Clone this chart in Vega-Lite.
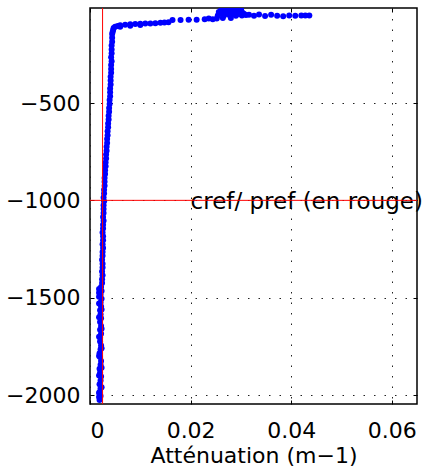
{
  "$schema": "https://vega.github.io/schema/vega-lite/v6.json",
  "width": 327,
  "height": 396,
  "autosize": "none",
  "padding": {"left": 90, "top": 8, "right": 10, "bottom": 71},
  "background": "white",
  "config": {
    "view": {"stroke": "black", "strokeWidth": 1.5},
    "font": "DejaVu Sans",
    "axis": {
      "domain": false,
      "tickColor": "black",
      "tickWidth": 1,
      "tickSize": -4,
      "labelColor": "black",
      "labelFontSize": 22,
      "labelFont": "DejaVu Sans",
      "titleFont": "DejaVu Sans",
      "titleFontSize": 22,
      "titleFontWeight": "normal",
      "titleColor": "black",
      "gridColor": "#222",
      "gridDash": [1.5, 9],
      "gridWidth": 1,
      "gridOpacity": 1
    }
  },
  "datasets": {
    "profile": [
      {"a": 0.0019, "z": -2025}, {"a": 0.0021, "z": -2005}, {"a": 0.0019, "z": -1985}, {"a": 0.0021, "z": -1965},
      {"a": 0.0019, "z": -1945}, {"a": 0.0021, "z": -1925}, {"a": 0.0022, "z": -1905}, {"a": 0.0020, "z": -1885},
      {"a": 0.0019, "z": -1865}, {"a": 0.0021, "z": -1845}, {"a": 0.0022, "z": -1825}, {"a": 0.0020, "z": -1805},
      {"a": 0.0019, "z": -1785}, {"a": 0.0021, "z": -1765}, {"a": 0.0022, "z": -1745}, {"a": 0.0020, "z": -1725},
      {"a": 0.0020, "z": -1705}, {"a": 0.0022, "z": -1685}, {"a": 0.0020, "z": -1665}, {"a": 0.0022, "z": -1645},
      {"a": 0.0020, "z": -1625}, {"a": 0.0022, "z": -1605}, {"a": 0.0021, "z": -1585}, {"a": 0.0020, "z": -1565},
      {"a": 0.0022, "z": -1545}, {"a": 0.0021, "z": -1525}, {"a": 0.0023, "z": -1505}, {"a": 0.0021, "z": -1485},
      {"a": 0.0023, "z": -1465}, {"a": 0.0022, "z": -1445}, {"a": 0.0018, "z": -1455}, {"a": 0.0018, "z": -1475},
      {"a": 0.0018, "z": -1495}, {"a": 0.0018, "z": -1990}, {"a": 0.0018, "z": -2010},
      {"a": 0.0018, "z": -1530}, {"a": 0.0018, "z": -1600}, {"a": 0.0018, "z": -1700}, {"a": 0.0018, "z": -1800},
      {"a": 0.0018, "z": -1900}, {"a": 0.0023, "z": -1560}, {"a": 0.0023, "z": -1660}, {"a": 0.0023, "z": -1760},
      {"a": 0.0023, "z": -1860}, {"a": 0.0023, "z": -1960},
      {"a": 0.0024, "z": -1425}, {"a": 0.0024, "z": -1405}, {"a": 0.0025, "z": -1385}, {"a": 0.0024, "z": -1365},
      {"a": 0.0025, "z": -1345}, {"a": 0.0025, "z": -1325}, {"a": 0.0024, "z": -1305}, {"a": 0.0025, "z": -1285},
      {"a": 0.0025, "z": -1265}, {"a": 0.0026, "z": -1245}, {"a": 0.0025, "z": -1225}, {"a": 0.0026, "z": -1205},
      {"a": 0.0026, "z": -1185}, {"a": 0.0025, "z": -1165}, {"a": 0.0026, "z": -1145}, {"a": 0.0026, "z": -1125},
      {"a": 0.0027, "z": -1105}, {"a": 0.0026, "z": -1085}, {"a": 0.0027, "z": -1065}, {"a": 0.0027, "z": -1045},
      {"a": 0.0027, "z": -1025}, {"a": 0.0028, "z": -1005}, {"a": 0.0027, "z": -985}, {"a": 0.0028, "z": -965},
      {"a": 0.0028, "z": -945}, {"a": 0.0029, "z": -925}, {"a": 0.0029, "z": -905}, {"a": 0.0029, "z": -885},
      {"a": 0.0030, "z": -865}, {"a": 0.0030, "z": -845}, {"a": 0.0031, "z": -825}, {"a": 0.0031, "z": -805},
      {"a": 0.0032, "z": -785}, {"a": 0.0032, "z": -765}, {"a": 0.0033, "z": -745}, {"a": 0.0033, "z": -725},
      {"a": 0.0034, "z": -705}, {"a": 0.0034, "z": -685}, {"a": 0.0035, "z": -665}, {"a": 0.0035, "z": -645},
      {"a": 0.0036, "z": -625}, {"a": 0.0036, "z": -605}, {"a": 0.0037, "z": -585}, {"a": 0.0037, "z": -565},
      {"a": 0.0038, "z": -545}, {"a": 0.0038, "z": -525}, {"a": 0.0039, "z": -505}, {"a": 0.0039, "z": -485},
      {"a": 0.0040, "z": -465}, {"a": 0.0040, "z": -445}, {"a": 0.0040, "z": -425}, {"a": 0.0041, "z": -405},
      {"a": 0.0041, "z": -385}, {"a": 0.0041, "z": -365}, {"a": 0.0042, "z": -345}, {"a": 0.0042, "z": -325},
      {"a": 0.0042, "z": -305}, {"a": 0.0043, "z": -285}, {"a": 0.0042, "z": -265}, {"a": 0.0043, "z": -245},
      {"a": 0.0043, "z": -225}, {"a": 0.0043, "z": -205}, {"a": 0.0044, "z": -185}, {"a": 0.0044, "z": -165},
      {"a": 0.0044, "z": -145}, {"a": 0.0045, "z": -135}, {"a": 0.0046, "z": -125}, {"a": 0.0047, "z": -115},
      {"a": 0.0050, "z": -108}, {"a": 0.0055, "z": -104}, {"a": 0.0060, "z": -101}, {"a": 0.0070, "z": -98},
      {"a": 0.0080, "z": -96}, {"a": 0.0090, "z": -94}, {"a": 0.0100, "z": -93}, {"a": 0.0110, "z": -92},
      {"a": 0.0120, "z": -91}, {"a": 0.0130, "z": -90}, {"a": 0.0140, "z": -88}, {"a": 0.0148, "z": -86},
      {"a": 0.0156, "z": -85}, {"a": 0.0060, "z": -108}, {"a": 0.0080, "z": -103}, {"a": 0.0100, "z": -99},
      {"a": 0.0164, "z": -73}, {"a": 0.0180, "z": -73}, {"a": 0.0196, "z": -72}, {"a": 0.0212, "z": -72},
      {"a": 0.0228, "z": -70}, {"a": 0.0244, "z": -70}, {"a": 0.0236, "z": -66}, {"a": 0.0252, "z": -66},
      {"a": 0.0264, "z": -64}, {"a": 0.0280, "z": -63},
      {"a": 0.0254, "z": -50}, {"a": 0.0266, "z": -52}, {"a": 0.0278, "z": -50},
      {"a": 0.0290, "z": -52}, {"a": 0.0302, "z": -50}, {"a": 0.0310, "z": -48},
      {"a": 0.0258, "z": -42}, {"a": 0.0270, "z": -43}, {"a": 0.0284, "z": -41},
      {"a": 0.0296, "z": -43}, {"a": 0.0306, "z": -42},
      {"a": 0.0256, "z": -32}, {"a": 0.0264, "z": -31}, {"a": 0.0272, "z": -32}, {"a": 0.0280, "z": -31},
      {"a": 0.0288, "z": -32}, {"a": 0.0296, "z": -31}, {"a": 0.0302, "z": -32},
      {"a": 0.0260, "z": -25}, {"a": 0.0268, "z": -25}, {"a": 0.0276, "z": -24}, {"a": 0.0284, "z": -24},
      {"a": 0.0292, "z": -24}, {"a": 0.0300, "z": -25},
      {"a": 0.0288, "z": -19}, {"a": 0.0296, "z": -17}, {"a": 0.0292, "z": -14}, {"a": 0.0300, "z": -19},
      {"a": 0.0316, "z": -47}, {"a": 0.0326, "z": -52}, {"a": 0.0336, "z": -45}, {"a": 0.0348, "z": -53},
      {"a": 0.0360, "z": -47}, {"a": 0.0372, "z": -52}, {"a": 0.0384, "z": -55}, {"a": 0.0396, "z": -50},
      {"a": 0.0408, "z": -52}, {"a": 0.0420, "z": -50}, {"a": 0.0428, "z": -50}, {"a": 0.0436, "z": -50}
    ],
    "refx": [{"cref": 0.0025}],
    "refy": [{"pref": -1000}],
    "label": [{"a": 0.02, "z": -1000, "txt": "cref/ pref (en rouge)"}]
  },
  "resolve": {"axis": {"x": "independent", "y": "independent"}},
  "layer": [
    {
      "data": {"name": "profile"},
      "mark": {"type": "point", "filled": true, "size": 36, "color": "#0000ff", "opacity": 1, "clip": true},
      "encoding": {
        "x": {
          "field": "a", "type": "quantitative",
          "scale": {"domain": [0, 0.065], "nice": false, "zero": false},
          "axis": {"orient": "bottom", "values": [0, 0.02, 0.04, 0.06], "labelExpr": "datum.value == 0 ? '0' : format(datum.value, '.2f')", "labelPadding": 20, "title": "Atténuation (m−1)", "titlePadding": 4, "grid": true}
        },
        "y": {
          "field": "z", "type": "quantitative",
          "scale": {"domain": [-2046, -12], "nice": false, "zero": false},
          "axis": {"orient": "left", "values": [-2000, -1500, -1000, -500], "format": "d", "labelPadding": 14, "title": null, "grid": true}
        }
      }
    },
    {
      "data": {"name": "label"},
      "mark": {"type": "text", "align": "left", "baseline": "alphabetic", "dy": 9, "fontSize": 23, "font": "DejaVu Sans", "color": "black", "clip": false},
      "encoding": {
        "x": {"field": "a", "type": "quantitative", "axis": null},
        "y": {"field": "z", "type": "quantitative", "axis": null},
        "text": {"field": "txt"}
      }
    },
    {
      "data": {"name": "refx"},
      "mark": {"type": "rule", "color": "#ff0000", "strokeWidth": 1},
      "encoding": {
        "x": {"field": "cref", "type": "quantitative", "axis": {"orient": "top", "values": [0, 0.02, 0.04, 0.06], "labels": false, "title": null, "grid": false}}
      }
    },
    {
      "data": {"name": "refy"},
      "mark": {"type": "rule", "color": "#ff0000", "strokeWidth": 1},
      "encoding": {
        "y": {"field": "pref", "type": "quantitative", "axis": {"orient": "right", "values": [-2000, -1500, -1000, -500], "labels": false, "title": null, "grid": false}}
      }
    }
  ]
}
